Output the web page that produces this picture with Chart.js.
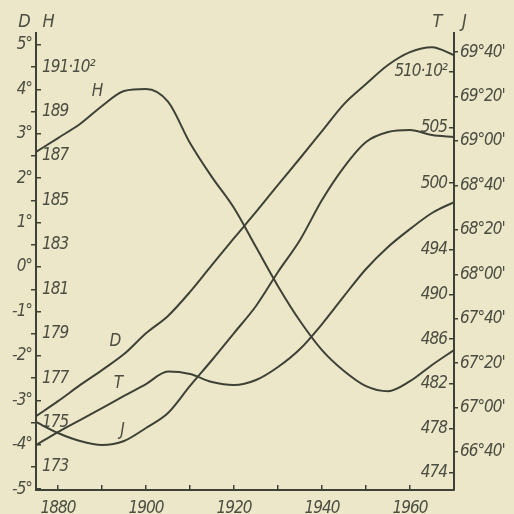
<!DOCTYPE html>
<html>
<head>
<meta charset="utf-8">
<script src="https://cdn.jsdelivr.net/npm/chart.js@4.4.1/dist/chart.umd.min.js"></script>
<style>
  html, body { margin: 0; padding: 0; background: #ece7c9; }
  canvas { display: block; }
</style>
</head>
<body>
<canvas id="chart" width="514" height="514"></canvas>
<script>
// magnetic elements, 1875-1970
const years = [1875, 1880, 1885, 1890, 1895, 1900, 1905, 1910, 1915, 1920,
               1925, 1930, 1935, 1940, 1945, 1950, 1955, 1960, 1965, 1970];
const declination = [-3.36, -3.02, -2.66, -2.32, -1.96, -1.49, -1.10, -0.56, 0.05, 0.65,
                     1.24, 1.85, 2.45, 3.06, 3.67, 4.12, 4.55, 4.84, 4.95, 4.77];
const horizontal = [187.18, 187.81, 188.44, 189.25, 189.93, 190.02, 189.45, 187.59, 186.05, 184.66,
                    182.90, 181.14, 179.57, 178.26, 177.32, 176.64, 176.41, 176.86, 177.59, 178.26];
const total = [476.51, 477.68, 478.75, 479.83, 480.91, 481.98, 483.10, 482.88, 482.16, 481.89,
               482.34, 483.51, 485.12, 487.36, 489.87, 492.30, 494.27, 495.88, 497.32, 498.30];
const inclination = [66.892, 66.809, 66.749, 66.719, 66.749, 66.847, 66.959, 67.162, 67.357, 67.559,
                     67.762, 68.017, 68.257, 68.557, 68.804, 68.992, 69.067, 69.082, 69.044, 69.029];

const yearTicks = [1880, 1890, 1900, 1910, 1920, 1930, 1940, 1950, 1960];
const dTicks = [-5, -4, -3, -2, -1, 0, 1, 2, 3, 4, 5];
const hTicks = [173, 175, 177, 179, 181, 183, 185, 187, 189, 191];
const tTicks = [474, 478, 482, 486, 490, 494, 500, 505, 510];
const jTicks = [66.6667, 67, 67.3333, 67.6667, 68, 68.3333, 68.6667, 69, 69.3333, 69.6667];

const INK = '#3e4236';
const TEXT = '#4b4e41';
const PAPER = '#ece7c9';
const FONT = '"Liberation Sans Narrow", "DejaVu Sans Condensed", sans-serif';

Chart.defaults.font.family = FONT;
Chart.defaults.font.style = 'italic';
Chart.defaults.font.size = 17;
Chart.defaults.color = TEXT;

const pts = vals => years.map((y, i) => ({x: y, y: vals[i]}));
const setTicks = list => s => { s.ticks = list.map(v => ({value: v})); };
const fixWidth = w => s => { s.width = w; };

function degMin(v) {
    const total = Math.round(v * 60);
    const d = Math.floor(total / 60);
    const m = total - d * 60;
    return d + '°' + String(m).padStart(2, '0') + "'";
}

const paperAndLabels = {
    id: 'paperAndLabels',
    beforeDraw(chart) {
        const ctx = chart.ctx;
        ctx.save();
        ctx.fillStyle = PAPER;
        ctx.fillRect(0, 0, chart.width, chart.height);
        ctx.restore();
        // the drawing's lettering is narrow
        if ('letterSpacing' in ctx) ctx.letterSpacing = '-1px';
    },
    afterDraw(chart) {
        const ctx = chart.ctx;
        ctx.save();
        ctx.fillStyle = TEXT;
        ctx.font = 'italic 18px ' + FONT;
        ctx.textAlign = 'center';
        ctx.textBaseline = 'middle';
        // axis names
        ctx.fillText('D', 24, 22);
        ctx.fillText('H', 48, 22);
        ctx.fillText('T', 437, 22);
        ctx.fillText('J', 464, 22);
        // curve names
        ctx.font = 'italic 17px ' + FONT;
        ctx.fillText('H', 97, 92);
        ctx.fillText('D', 115, 342);
        ctx.fillText('T', 118, 384);
        ctx.fillText('J', 122, 431);
        ctx.restore();
    }
};

const line = (vals, axis) => ({
    data: pts(vals),
    yAxisID: axis,
    borderColor: INK,
    borderWidth: 2,
    pointRadius: 0,
    cubicInterpolationMode: 'monotone',
    fill: false
});

new Chart(document.getElementById('chart'), {
    type: 'line',
    data: {
        datasets: [
            line(declination, 'd'),
            line(horizontal, 'h'),
            line(total, 't'),
            line(inclination, 'j')
        ]
    },
    options: {
        responsive: false,
        animation: false,
        layout: {padding: {top: 33, left: 0, right: 0, bottom: 0}},
        plugins: {legend: {display: false}, tooltip: {enabled: false}},
        scales: {
            x: {
                type: 'linear', position: 'bottom', min: 1875, max: 1970,
                afterBuildTicks: setTicks(yearTicks),
                afterFit: s => { s.height = 24; },
                border: {color: INK, width: 2},
                grid: {drawOnChartArea: false, tickLength: -5, color: INK, lineWidth: 1.5},
                ticks: {
                    padding: 13, autoSkip: false, maxRotation: 0,
                    callback: v => (v % 20 === 0 ? String(v) : '')
                }
            },
            d: {
                type: 'linear', position: 'left', weight: 1, min: -5.02, max: 5.27,
                afterBuildTicks: setTicks(dTicks),
                afterFit: fixWidth(36),
                border: {color: INK, width: 2},
                grid: {drawOnChartArea: false, tickLength: -5, color: INK, lineWidth: 1.5},
                ticks: {padding: 9, callback: v => v + '°'}
            },
            h: {
                type: 'linear', position: 'left', weight: 0, min: 171.96, max: 192.54,
                afterBuildTicks: setTicks(hTicks),
                afterFit: fixWidth(0),
                border: {display: false},
                grid: {drawOnChartArea: false, tickLength: 5, color: INK, lineWidth: 1.5},
                ticks: {mirror: true, padding: 6, callback: v => (v === 191 ? '191·10²' : String(v))}
            },
            t: {
                type: 'linear', position: 'right', weight: 0, min: 472.48, max: 513.46,
                afterBuildTicks: setTicks(tTicks),
                afterFit: fixWidth(0),
                border: {display: false},
                grid: {drawOnChartArea: false, tickLength: -5, color: INK, lineWidth: 1.5},
                ticks: {mirror: true, padding: -7, callback: v => (v === 510 ? '510·10²' : String(v))}
            },
            j: {
                type: 'linear', position: 'right', weight: 1, min: 66.3817, max: 69.81,
                afterBuildTicks: setTicks(jTicks),
                afterFit: fixWidth(60),
                border: {color: INK, width: 2},
                grid: {drawOnChartArea: false, tickLength: 4, color: INK, lineWidth: 1.5},
                ticks: {padding: 2, callback: degMin}
            }
        }
    },
    plugins: [paperAndLabels]
});
</script>
</body>
</html>
